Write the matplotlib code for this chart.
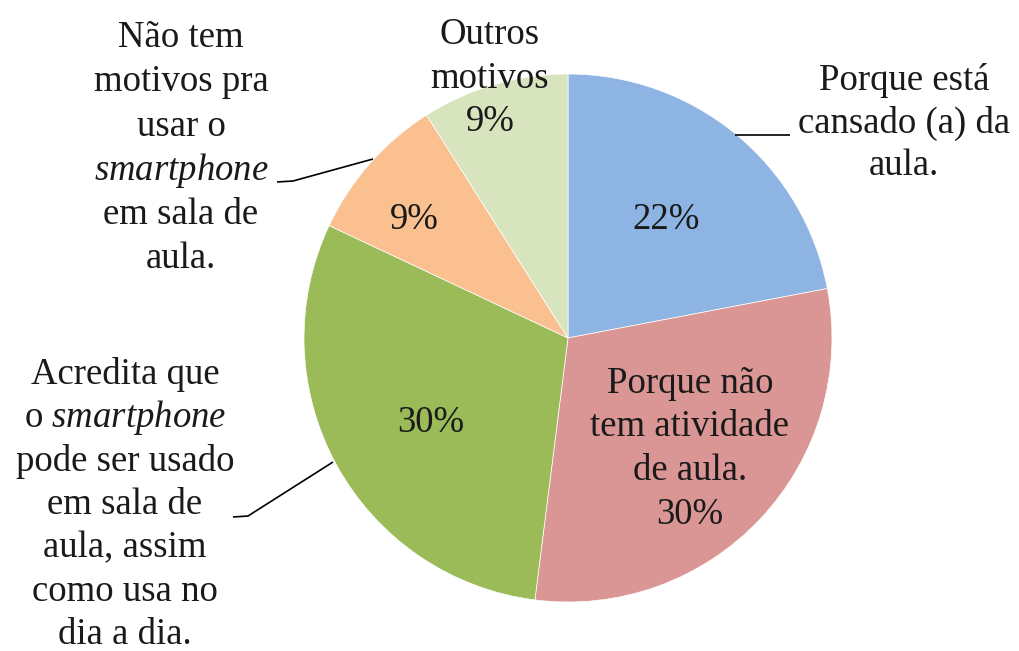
import matplotlib
matplotlib.use('Agg')
import matplotlib.pyplot as plt

# ---- data ----
categories = [
    "Porque está cansado (a) da aula.",
    "Porque não tem atividade de aula.",
    "Acredita que o smartphone pode ser usado em sala de aula, assim como usa no dia a dia.",
    "Não tem motivos pra usar o smartphone em sala de aula.",
    "Outros motivos",
]
values = [22, 30, 30, 9, 9]
colors = ['#8DB4E2', '#D99694', '#9BBB59', '#FAC090', '#D7E4BD']
label_lines = [
    ["Porque está", "cansado (a) da", "aula."],
    ["Porque não", "tem atividade", "de aula."],
    ["Acredita que", r"o $\mathit{smartphone}$", "pode ser usado", "em sala de",
     "aula, assim", "como usa no", "dia a dia."],
    ["Não tem", "motivos pra", "usar o", r"$\mathit{smartphone}$", "em sala de", "aula."],
    ["Outros", "motivos"],
]
pct_labels = [f"{v}%" for v in values]

# ---- style ----
plt.rcParams['font.family'] = ['Liberation Serif', 'DejaVu Serif']
plt.rcParams['mathtext.fontset'] = 'custom'
plt.rcParams['mathtext.rm'] = 'Liberation Serif'
plt.rcParams['mathtext.it'] = 'Liberation Serif:italic'

W, H = 1019, 651
FS = 26.5
TXT = '#1a1a1a'

fig = plt.figure(figsize=(W / 100, H / 100), dpi=100)
ax = fig.add_axes([0, 0, 1, 1])

ax.pie(values, colors=colors, startangle=90, counterclock=False,
       center=(568, H - 338), radius=264,
       wedgeprops=dict(edgecolor='white', linewidth=0.5))
ax.set_xlim(0, W)
ax.set_ylim(0, H)
ax.set_aspect('equal')
ax.axis('off')


def block(lines, x, y0, dy):
    for i, s in enumerate(lines):
        ax.text(x, H - (y0 + i * dy), s, ha='center', va='baseline',
                fontsize=FS, color=TXT)


# category label blocks (center x, first baseline y in px from top, spacing)
block(label_lines[0], 904, 90, 42.5)
block(label_lines[1] + [pct_labels[1]], 690, 393, 43.5)
block(label_lines[2], 125, 384, 43.4)
block(label_lines[3], 181, 47, 44.3)
block(label_lines[4] + [pct_labels[4]], 490, 44, 43.5)

# percentage labels inside slices
for idx, (x, y) in {0: (666, 229), 3: (414, 229), 2: (431, 432)}.items():
    ax.text(x, H - y, pct_labels[idx], ha='center', va='baseline',
            fontsize=FS, color=TXT)

# leader lines
leaders = [
    [(735, 135), (790, 135)],
    [(277, 182), (293, 181), (373, 159)],
    [(233, 517), (248, 516), (333, 462)],
]
for pts in leaders:
    ax.plot([p[0] for p in pts], [H - p[1] for p in pts], color='black',
            linewidth=1.2, solid_capstyle='butt')

fig.savefig('out.png', dpi=100, facecolor='white')
